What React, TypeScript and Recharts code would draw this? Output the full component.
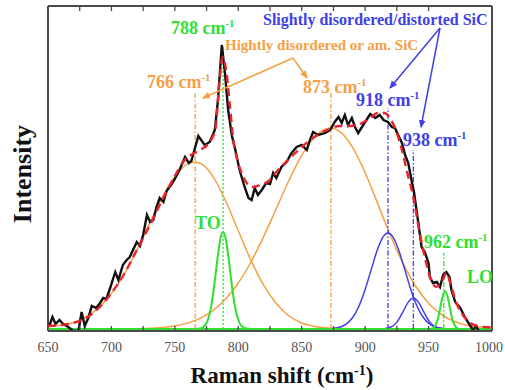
import React from 'react';
import { LineChart, Line, XAxis, YAxis, ReferenceLine } from 'recharts';

// Raman shift (cm-1) axis: marks every 25, labels every 50
const xTicks = [650, 675, 700, 725, 750, 775, 800, 825, 850, 875, 900, 925, 950, 975, 1000];
const labelStep = 50;
const xDomain = [650, 1000];
const yDomain = [-2, 323];

// measured spectrum [shift, intensity]
const spectrum: [number, number][] = [
  [651, 3], [653.5, 12], [656, 5], [659, 9], [662, 5], [666, 2], [670, -2], [674, -2],
  [676.5, 17], [679, 3], [682, 12], [684.5, 23], [688, 21], [691, 26], [693.5, 31], [696, 30],
  [699, 41], [703, 57], [705.5, 49], [709, 64], [712, 69], [714.5, 72], [717, 79], [720, 87],
  [722.5, 83], [725, 94], [728, 114], [730.5, 107], [733, 109], [735.5, 122], [738, 131],
  [741, 127], [743.5, 138], [747.5, 145], [750, 150], [754, 160], [758, 172], [761, 166],
  [763, 168], [768.5, 193], [773.5, 184], [777.5, 187], [781.5, 199], [784, 229], [787, 284],
  [789.5, 256], [792, 219], [795, 193], [797.5, 180], [801, 159], [805, 142], [808, 131],
  [810.5, 129], [813, 141], [815.5, 134], [818.5, 139], [822, 146], [825, 145], [827.5, 156],
  [830, 151], [834, 162], [838, 167], [842, 176], [846, 182], [850, 184], [854, 179],
  [856.5, 189], [859, 197], [863, 194], [868.5, 196], [872.5, 199], [876, 207], [879, 212],
  [881.5, 206], [884, 214], [886.5, 204], [889.5, 211], [892, 202], [894.5, 196], [897.5, 202],
  [901, 209], [904, 215], [908, 211], [911.5, 214], [914.5, 209], [918, 207], [921, 202],
  [923.5, 201], [926, 194], [929, 186], [931.5, 174], [934, 166], [935.5, 156], [937, 146],
  [938.5, 137], [940.5, 119], [943, 96], [944.5, 82], [947, 77], [950, 66], [951, 52],
  [953.5, 46], [956.5, 47], [959, 42], [961.5, 54], [964, 57], [966.5, 52], [968, 39],
  [971, 27], [975, 21], [978.5, 12], [982.5, 4], [985, -1], [987.5, 3], [989.5, -2],
];

// cumulative fit
const fitCurve: [number, number][] = [
  [650, 3], [660, 4], [670, 6], [680, 11], [690, 21], [700, 36], [710, 55], [720, 79],
  [730, 103], [740, 129], [750, 153], [757, 168], [764, 175], [770, 179], [778, 188],
  [782, 200], [785, 245], [787.7, 272], [790.5, 258], [793.5, 222], [796, 190], [800, 166],
  [804, 152], [808, 144], [812, 142], [817, 144], [824, 148], [830, 157], [840, 170],
  [850, 182], [860, 192], [870, 199], [880, 203], [888, 203], [896, 205], [904, 211],
  [910, 216], [915, 216], [920, 210], [925, 196], [929, 179], [934, 152], [938, 132],
  [943, 96], [947, 72], [952, 49], [956, 42], [961.5, 50], [964, 56], [968, 42], [972, 26],
  [977, 14], [983, 6], [990, 2.5], [1000, 1.5],
];

// fitted bands
const band766: [number, number][] = [
  [650, 2.5], [660, 3.8], [670, 6.5], [680, 12], [690, 21.4], [700, 35.5], [710, 54.8],
  [720, 78.7], [730, 105.3], [740, 131.3], [750, 152.5], [760, 164.9], [766, 167],
  [772, 164.3], [780, 152.6], [790, 128.2], [800, 98.2], [810, 68.6], [820, 43.8],
  [830, 25.5], [840, 13], [850, 6], [860, 2.6], [870, 1.1], [880, 0.4], [900, 0],
];
const band873: [number, number][] = [
  [650, 0], [700, 0.1], [720, 0.3], [740, 1.5], [750, 3], [760, 5.9], [770, 10.7],
  [780, 18.4], [790, 29.9], [800, 46], [810, 67], [820, 92.4], [830, 120.5], [840, 148.7],
  [850, 173.6], [860, 191.8], [867, 199], [873, 201], [880, 197.6], [890, 181.9],
  [900, 156.2], [910, 125.1], [920, 93.5], [930, 65.3], [940, 42.5], [950, 25.8],
  [960, 14.6], [970, 7.7], [980, 3.8], [990, 2.2], [1000, 1.5],
];
const band918: [number, number][] = [
  [870, 0.2], [875, 0.6], [880, 1.8], [885, 4.8], [890, 11.2], [895, 22.5], [900, 39.5],
  [905, 60.4], [910, 80.5], [914, 91.9], [918, 96], [922, 91.9], [926, 80.5], [931, 60.4],
  [936, 39.5], [941, 22.5], [946, 11.2], [951, 4.8], [956, 1.8], [961, 0.6], [966, 0.2],
];
const band938: [number, number][] = [
  [915, 0.3], [920, 1.7], [925, 6.9], [930, 17.6], [934, 26.9], [938, 31], [942, 26.9],
  [946, 17.6], [951, 6.9], [956, 1.7], [961, 0.3],
];
const bandTO: [number, number][] = [
  [650, 0], [766, 0], [770, 0.5], [774, 3.8], [776, 9], [778, 18.6], [780, 33.7],
  [782, 53.5], [784, 74.5], [786, 90.8], [788, 97], [790, 90.8], [792, 74.5], [794, 53.5],
  [796, 33.7], [798, 18.6], [800, 9], [802, 3.8], [806, 0.5], [810, 0], [1000, 0],
];
const bandLO: [number, number][] = [
  [650, 0], [950, 0], [953, 0.6], [955, 2.8], [957, 8.7], [959, 19.8], [961, 32.2],
  [963, 38], [965, 32.2], [967, 19.8], [969, 8.7], [971, 2.8], [973, 0.6], [976, 0], [1000, 0],
];

// peak markers: position and height of the dash-dot guide
const markerPos = [766, 788, 873, 918, 938, 962];
const markerTop = [236, 284, 236, 221, 179, 76];

const ORANGE = '#f5a043';
const GREEN = '#2fe02f';
const BLUE = '#4040e6';
const RED = '#e8232d';
const FRAME = '#4a4a4a';
const markerColor = [ORANGE, GREEN, ORANGE, BLUE, BLUE, GREEN];
const markerDash = ['5 2 1.5 2', '2 2', '5 2 1.5 2', '5 2 1.5 2', '5 2 1.5 2', '5 2 1.5 2'];

const pts = (arr: [number, number][]) => arr.map(([x, y]) => ({ x, y }));

const serif = "'Liberation Serif', 'DejaVu Serif', serif";

// bottom tick text, only on every other mark
function ShiftTick({ x, y, payload }: any) {
  if (payload.value % labelStep !== 0) return <g />;
  return (
    <text x={x} y={y + 10} textAnchor="middle" fill="#555" fontSize={14} fontFamily={serif}>
      {payload.value}
    </text>
  );
}

const NoLabel = () => <g />;

function Wavenumber({ x, y, value, color, size }: { x: number; y: number; value: string; color: string; size: number }) {
  return (
    <text x={x} y={y} fill={color} fontSize={size} fontWeight="bold" fontFamily={serif}>
      {value} cm
      <tspan dy={-7} fontSize={size * 0.6}>-1</tspan>
    </text>
  );
}

function Annotations() {
  return (
    <svg width={505} height={390} style={{ position: 'absolute', left: 0, top: 0, pointerEvents: 'none' }}>
      <defs>
        <marker id="arrO" markerWidth="8" markerHeight="8" refX="7" refY="4" orient="auto" markerUnits="userSpaceOnUse">
          <path d="M0,0.5 L8,4 L0,7.5 Z" fill={ORANGE} />
        </marker>
        <marker id="arrB" markerWidth="8" markerHeight="8" refX="7" refY="4" orient="auto" markerUnits="userSpaceOnUse">
          <path d="M0,0.5 L8,4 L0,7.5 Z" fill={BLUE} />
        </marker>
      </defs>

      <Wavenumber x={171} y={34} value="788" color={GREEN} size={18} />
      <text x={225} y={50} fill={ORANGE} fontSize={15} fontWeight="bold" fontFamily={serif}>
        Hightly disordered or am. SiC
      </text>
      <Wavenumber x={147} y={88} value="766" color={ORANGE} size={18} />
      <Wavenumber x={303} y={93} value="873" color={ORANGE} size={18} />
      <text x={263} y={25} fill={BLUE} fontSize={16} fontWeight="bold" fontFamily={serif}>
        Slightly disordered/distorted SiC
      </text>
      <Wavenumber x={356} y={106} value="918" color={BLUE} size={18} />
      <Wavenumber x={403} y={146} value="938" color={BLUE} size={18} />
      <Wavenumber x={424} y={248} value="962" color={GREEN} size={18} />
      <text x={195} y={229} fill={GREEN} fontSize={18} fontWeight="bold" fontFamily={serif}>TO</text>
      <text x={467} y={283} fill={GREEN} fontSize={18} fontWeight="bold" fontFamily={serif}>LO</text>

      <line x1={293} y1={58} x2={203} y2={98} stroke={ORANGE} strokeWidth={1.5} markerEnd="url(#arrO)" />
      <line x1={293} y1={58} x2={307} y2={78} stroke={ORANGE} strokeWidth={1.5} markerEnd="url(#arrO)" />
      <line x1={440} y1={28} x2={390} y2={88} stroke={BLUE} strokeWidth={1.5} markerEnd="url(#arrB)" />
      <line x1={440} y1={28} x2={421} y2={127} stroke={BLUE} strokeWidth={1.5} markerEnd="url(#arrB)" />

      <text x={282} y={383} textAnchor="middle" fill="#111" fontSize={23} fontWeight="bold" fontFamily={serif}>
        Raman shift (cm<tspan dy={-8} fontSize={14}>-1</tspan>
        <tspan dy={8}>)</tspan>
      </text>
      <text
        x={31}
        y={174}
        transform="rotate(-90 31 174)"
        textAnchor="middle"
        fill="#111"
        fontSize={26}
        fontWeight="bold"
        fontFamily={serif}
      >
        Intensity
      </text>
    </svg>
  );
}

export default function App() {
  const tickStroke = { stroke: FRAME, strokeWidth: 1.3 };
  const frame = { stroke: FRAME, strokeWidth: 2, ifOverflow: 'visible' as const };
  return (
    <div style={{ position: 'absolute', left: 0, top: 0, width: 505, height: 390, background: '#fff' }}>
      <LineChart width={505} height={390} margin={{ top: 6, right: 13, bottom: 29, left: 48 }}>
        <XAxis
          xAxisId={0}
          type="number"
          dataKey="x"
          domain={xDomain}
          allowDataOverflow
          ticks={xTicks}
          height={30}
          tickSize={-5}
          tickMargin={16}
          tickLine={tickStroke}
          axisLine={{ stroke: FRAME, strokeWidth: 2 }}
          tick={ShiftTick}
        />
        <XAxis
          xAxisId="tp"
          orientation="top"
          type="number"
          dataKey="x"
          domain={xDomain}
          allowDataOverflow
          ticks={xTicks}
          mirror
          tickSize={5}
          tick={NoLabel}
          axisLine={{ stroke: FRAME, strokeWidth: 2 }}
          tickLine={tickStroke}
        />
        <YAxis yAxisId={0} type="number" domain={yDomain} allowDataOverflow hide />

        <ReferenceLine x={xDomain[0]} {...frame} />
        <ReferenceLine x={xDomain[1]} {...frame} />

        <Line data={pts(band766)} dataKey="y" type="monotone" stroke={ORANGE} strokeWidth={1.5} dot={false} isAnimationActive={false} />
        <Line data={pts(band873)} dataKey="y" type="monotone" stroke={ORANGE} strokeWidth={1.5} dot={false} isAnimationActive={false} />
        <Line data={pts(band918)} dataKey="y" type="monotone" stroke={BLUE} strokeWidth={1.5} dot={false} isAnimationActive={false} />
        <Line data={pts(band938)} dataKey="y" type="monotone" stroke={BLUE} strokeWidth={1.5} dot={false} isAnimationActive={false} />
        <Line data={pts(bandTO)} dataKey="y" type="monotone" stroke={GREEN} strokeWidth={2} dot={false} isAnimationActive={false} />
        <Line data={pts(bandLO)} dataKey="y" type="monotone" stroke={GREEN} strokeWidth={2} dot={false} isAnimationActive={false} />

        {markerPos.map((x, i) => (
          <Line
            key={'m' + x}
            data={[{ x, y: 0 }, { x, y: markerTop[i] }]}
            dataKey="y"
            type="linear"
            stroke={markerColor[i]}
            strokeWidth={1.3}
            strokeDasharray={markerDash[i]}
            dot={false}
            isAnimationActive={false}
          />
        ))}

        <Line data={pts(spectrum)} dataKey="y" type="linear" stroke="#111" strokeWidth={2.4} dot={false} isAnimationActive={false} />
        <Line
          data={pts(fitCurve)}
          xAxisId="tp"
          dataKey="y"
          type="monotone"
          stroke={RED}
          strokeWidth={2.4}
          strokeDasharray="8 5"
          dot={false}
          isAnimationActive={false}
        />
      </LineChart>
      <Annotations />
    </div>
  );
}
